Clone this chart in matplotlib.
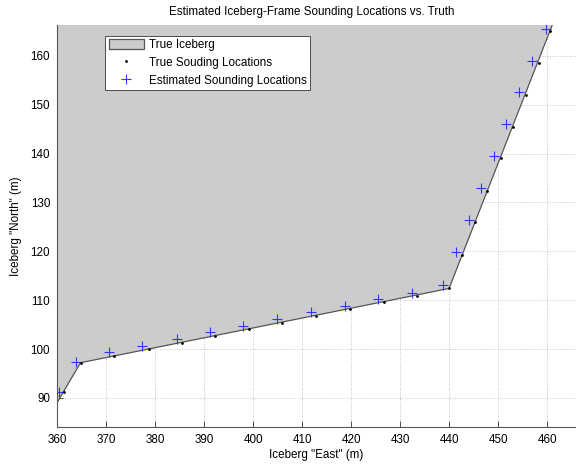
import matplotlib.pyplot as plt
import numpy as np

plt.rcParams["font.family"] = ["Liberation Sans", "DejaVu Sans"]
plt.rcParams["font.size"] = 8.4

# iceberg outline (east, north) in metres
berg_east = [360.0, 364.8, 440.0, 462.5, 462.5, 360.0]
berg_north = [89.0, 97.2, 112.4, 170.0, 170.0, 170.0]

# true sounding positions along the waterline
true_east = [361.4, 364.8, 371.6, 378.7, 385.6, 392.2, 399.1, 406.0, 412.8,
             419.7, 426.7, 433.5, 439.9, 442.6, 445.2, 447.8, 450.5, 453.1,
             455.7, 458.3, 460.6]
true_north = [91.3, 97.2, 98.6, 100.0, 101.3, 102.7, 104.1, 105.4, 106.8,
              108.2, 109.6, 110.9, 112.4, 119.3, 125.9, 132.4, 139.1, 145.4,
              151.9, 158.5, 165.0]

# estimated sounding positions
est_east = [360.4, 363.8, 370.6, 377.4, 384.4, 391.2, 398.0, 404.8, 411.8,
            418.7, 425.5, 432.4, 438.8, 441.5, 444.0, 446.6, 449.1, 451.7,
            454.3, 456.9, 459.7]
est_north = [91.3, 97.4, 99.3, 100.6, 102.0, 103.4, 104.8, 106.1, 107.5,
             108.9, 110.2, 111.4, 113.2, 119.9, 126.4, 133.0, 139.4, 146.0,
             152.6, 159.0, 165.5]

fig = plt.figure(figsize=(5.76, 4.70), dpi=100)
ax = fig.add_axes([57 / 576, 43 / 470, 1 - 57 / 576, 402 / 470])

ax.fill(berg_east, berg_north, facecolor="#cccccc", edgecolor="#555555",
        linewidth=0.9, label="True Iceberg", zorder=1)
ax.plot(true_east, true_north, ".", color="black", markersize=2,
        label="True Souding Locations", zorder=3)
ax.plot(est_east, est_north, "+", color="#3333ff", markersize=6.5,
        markeredgewidth=0.8, label="Estimated Sounding Locations", zorder=2)

ax.set_xlim(360, 465.9)
ax.set_ylim(84.05, 166.3)
ax.set_xticks(np.arange(360, 461, 10))
ax.set_yticks(np.arange(90, 161, 10))
ax.set_axisbelow(True)
ax.grid(True, linestyle=(0, (1, 2)), color="#b0b0b0", linewidth=0.6)
ax.tick_params(direction="in", length=4, width=0.6, colors="#333333",
               labelcolor="black", pad=5)
for side in ("top", "right"):
    ax.spines[side].set_visible(False)
for side in ("left", "bottom"):
    ax.spines[side].set_color("#555555")
    ax.spines[side].set_linewidth(0.8)

ax.set_xlabel('Iceberg "East" (m)', labelpad=2)
ax.set_ylabel('Iceberg "North" (m)', labelpad=6)
fig.text(312 / 576, 1 - 12 / 470,
         "Estimated Iceberg-Frame Sounding Locations vs. Truth",
         ha="center", va="center")

leg = ax.legend(loc="upper left", bbox_to_anchor=(48 / 519, 1 - 10.5 / 402),
                frameon=True, fancybox=False, borderaxespad=0,
                handlelength=3.0, handleheight=0.9, handletextpad=0.45,
                labelspacing=0.5, borderpad=0.3, markerscale=1.0)
leg.get_frame().set_edgecolor("#333333")
leg.get_frame().set_linewidth(0.6)
leg.get_frame().set_facecolor("white")
leg.get_frame().set_alpha(1)

fig.savefig("out.png", dpi=100)
